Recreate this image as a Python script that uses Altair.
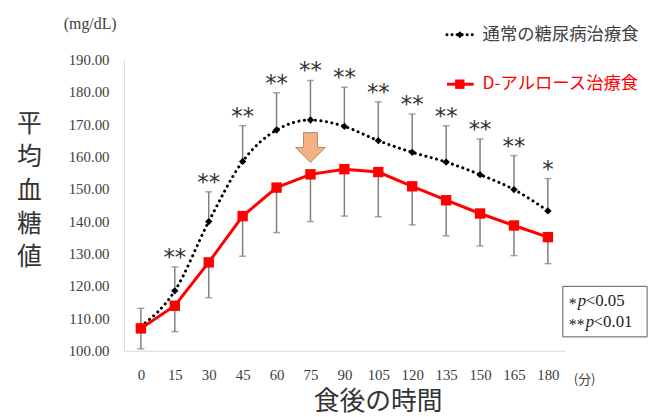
import altair as alt
import pandas as pd

times = [0, 15, 30, 45, 60, 75, 90, 105, 120, 135, 150, 165, 180]
normal = [107.5, 118.5, 139.9, 158.5, 168.2, 171.3, 169.3, 164.9, 161.3, 158.3, 154.4, 149.8, 143.2]
normal_upper = [113.1, 125.9, 149.1, 169.5, 179.7, 183.5, 181.4, 176.9, 173.1, 169.5, 165.4, 160.3, 153.2]
allulose = [106.9, 113.9, 127.3, 141.6, 150.4, 154.5, 156.1, 155.2, 150.8, 146.5, 142.4, 138.7, 135.1]
allulose_lower = [100.6, 105.9, 116.4, 129.2, 136.5, 139.9, 141.6, 141.4, 138.9, 135.5, 132.4, 129.4, 126.9]
sig = ["", "**", "**", "**", "**", "**", "**", "**", "**", "**", "**", "**", "*"]
y_ticks = [100, 110, 120, 130, 140, 150, 160, 170, 180, 190]
arrow_time = [75]
arrow_value = [162.8]

series_names = ["通常の糖尿病治療食", "D-アルロース治療食"]

df = pd.DataFrame({
    "t": times,
    "normal": normal,
    "normal_upper": normal_upper,
    "allulose": allulose,
    "allulose_lower": allulose_lower,
    "sig": sig,
})
arrow_df = pd.DataFrame({"t": arrow_time, "v": arrow_value})

SERIF = "Liberation Serif"
CJK = "Noto Sans CJK JP"
GRAY_TXT = "#404040"
ERR = "#7f7f7f"

x_axis = alt.Axis(
    title="食後の時間",
    titleFont=CJK, titleFontSize=26, titleFontWeight="normal", titleColor="#333333",
    titleX=256, titleY=51, titleBaseline="middle", titleAlign="center",
    labelAngle=0, labelFont=SERIF, labelFontSize=15, labelColor=GRAY_TXT,
    labelPadding=17, ticks=False, grid=False, labelOverlap=False,
    domainColor="#d9d9d9",
)
x_scale = alt.Scale(type="point", padding=0.5)

def X(field="t"):
    return alt.X(f"{field}:O", sort=times, scale=x_scale, axis=x_axis)

y_axis = alt.Axis(
    title=["平", "均", "血", "糖", "値"],
    titleAngle=0, titleFont=CJK, titleFontSize=25, titleFontWeight="normal",
    titleColor="#333333", titleX=-96, titleY=53, titleBaseline="top",
    titleAlign="center", titleLineHeight=33.5,
    values=y_ticks, format=".2f", labelOverlap=False,
    labelFont=SERIF, labelFontSize=15, labelColor=GRAY_TXT, labelPadding=15,
    ticks=False, grid=False, domainColor="#d9d9d9",
)
y_scale = alt.Scale(domain=[100, 190], nice=False, zero=False)

def Y(field):
    return alt.Y(f"{field}:Q", scale=y_scale, axis=y_axis)

base = alt.Chart(df)

# error bars
err_n = base.mark_rule(color=ERR, strokeWidth=1.5).encode(x=X(), y=Y("normal"), y2="normal_upper:Q")
cap_n = base.mark_tick(color=ERR, thickness=1.5, size=7).encode(x=X(), y=Y("normal_upper"))
err_a = base.mark_rule(color=ERR, strokeWidth=1.5).encode(x=X(), y=Y("allulose"), y2="allulose_lower:Q")
cap_a = base.mark_tick(color=ERR, thickness=1.5, size=7).encode(x=X(), y=Y("allulose_lower"))

# lines
line_n = base.mark_line(color="black", strokeWidth=3, strokeDash=[0.1, 5.5], strokeCap="round",
                        interpolate="monotone").encode(x=X(), y=Y("normal"))
pts_n = base.mark_point(shape="diamond", filled=True, size=55, color="black", opacity=1).encode(x=X(), y=Y("normal"))
line_a = base.mark_line(color="#ff0000", strokeWidth=3).encode(x=X(), y=Y("allulose"))
pts_a = base.mark_point(shape="square", filled=True, size=110, color="#ff0000", opacity=1).encode(x=X(), y=Y("allulose"))

# significance stars
stars = base.mark_text(font="DejaVu Sans", fontSize=23, color="#333333", baseline="alphabetic", dy=-2).encode(
    x=X(), y=Y("normal_upper"), text="sig:N")

# arrow
arrow_path = "M-0.47,-1 L0.47,-1 L0.47,0 L1,0 L0,1 L-1,0 L-0.47,0 Z"
arrow = alt.Chart(arrow_df).mark_point(shape=arrow_path, filled=True, size=900, fill="#f4b183",
                                       stroke="#b0886a", strokeWidth=1, opacity=1).encode(
    x=X(), y=Y("v"))

one = alt.Data(values=[{"a": 1}])

def txt(text, x, y, **kw):
    return alt.Chart(one).mark_text(text=text, **kw).encode(x=alt.value(x), y=alt.value(y))

unit = txt("(mg/dL)", -34, -36, font=SERIF, fontSize=16, color=GRAY_TXT, align="center", baseline="middle")
minutes = txt("(分)", 465, 324, font=CJK, fontSize=13, color=GRAY_TXT, align="center", baseline="middle")

# legend
leg_line_n = alt.Chart(one).mark_rule(color="black", strokeWidth=3, strokeDash=[0.1, 5], strokeCap="round").encode(
    x=alt.value(326), x2=alt.value(353), y=alt.value(-25))
leg_pt_n = alt.Chart(one).mark_point(shape="diamond", filled=True, size=50, color="black", opacity=1).encode(
    x=alt.value(339), y=alt.value(-25))
leg_txt_n = txt(series_names[0], 362, -25, font=CJK, fontSize=17.5, color=GRAY_TXT, align="left", baseline="middle")
leg_line_a = alt.Chart(one).mark_rule(color="#ff0000", strokeWidth=3).encode(
    x=alt.value(326), x2=alt.value(353), y=alt.value(25))
leg_pt_a = alt.Chart(one).mark_point(shape="square", filled=True, size=90, color="#ff0000", opacity=1).encode(
    x=alt.value(339), y=alt.value(25))
leg_txt_a = txt(series_names[1], 362, 25, font=CJK, fontSize=17.5, color="#ff0000", align="left", baseline="middle")

# p-value box
box = alt.Chart(one).mark_rect(fill="white", stroke="#595959", strokeWidth=1).encode(
    x=alt.value(443), x2=alt.value(528), y=alt.value(229), y2=alt.value(280))
p1a = txt("*", 449, 247, font=SERIF, fontSize=16, color="#222222", align="left", baseline="middle")
p1b = txt("p", 458, 244, font=SERIF, fontSize=17, fontStyle="italic", color="#222222", align="left", baseline="middle")
p1c = txt("<0.05", 466, 244, font=SERIF, fontSize=17, color="#222222", align="left", baseline="middle")
p2a = txt("**", 449, 268, font=SERIF, fontSize=16, color="#222222", align="left", baseline="middle")
p2b = txt("p", 466, 265, font=SERIF, fontSize=17, fontStyle="italic", color="#222222", align="left", baseline="middle")
p2c = txt("<0.01", 474, 265, font=SERIF, fontSize=17, color="#222222", align="left", baseline="middle")

chart = alt.layer(
    err_n, cap_n, err_a, cap_a, line_n, line_a, pts_n, pts_a, stars, arrow,
    unit, minutes,
    leg_line_n, leg_pt_n, leg_txt_n, leg_line_a, leg_pt_a, leg_txt_a,
    box, p1a, p1b, p1c, p2a, p2b, p2c,
).properties(
    width=445, height=294,
    padding={"left": 117, "top": 50, "right": 92, "bottom": 70},
    autosize=alt.AutoSizeParams(type="none"),
    background="white",
).configure_view(stroke=None).configure_axis(labelOverlap=False)

chart.save("out.html", embed_options={"renderer": "svg", "actions": False})
